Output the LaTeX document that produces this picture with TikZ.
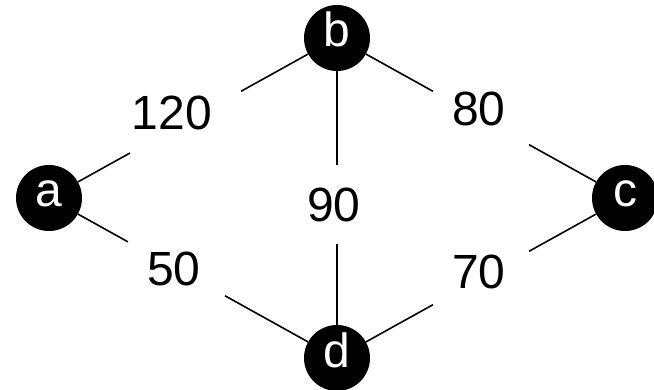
\documentclass[tikz,border=0pt]{standalone}
\usepackage{fontspec}
\setmainfont{Liberation Sans}
\usetikzlibrary{calc}
\tikzset{
  vertex/.style={circle, fill=black, text=white, inner sep=0pt,
                 minimum size=66pt, text height=24pt, text depth=6pt,
                 font=\fontsize{48}{48}\selectfont},
  edge/.style={line width=1.6pt},
  weight/.style={inner sep=0pt, font=\fontsize{48}{48}\selectfont},
}

\begin{document}
\begin{tikzpicture}[x=1pt, y=-1pt]
    \useasboundingbox (0,0) rectangle (654,390);
    %% vertices
    \node[vertex] (a) at (49,198)  {a};
    \node[vertex] (b) at (337,38)  {b};
    \node[vertex] (c) at (625,198) {c};
    \node[vertex] (d) at (337,358) {d};
    %% weights
    \node[weight] (wab) at (172,113) {120};
    \node[weight] (wbc) at (479,109) {80};
    \node[weight] (wbd) at (334,205) {90};
    \node[weight] (wad) at (174,269) {50};
    \node[weight] (wdc) at (479,272) {70};
    %% ends of the gap left open for each weight
    \coordinate (ab1) at ($(a)!0.281!(b)$);
    \coordinate (ab2) at ($(a)!0.667!(b)$);
    \coordinate (bc1) at ($(b)!0.333!(c)$);
    \coordinate (bc2) at ($(b)!0.667!(c)$);
    \coordinate (bd1) at ($(b)!0.397!(d)$);
    \coordinate (bd2) at ($(b)!0.644!(d)$);
    \coordinate (ad1) at ($(a)!0.274!(d)$);
    \coordinate (ad2) at ($(a)!0.611!(d)$);
    \coordinate (dc1) at ($(d)!0.333!(c)$);
    \coordinate (dc2) at ($(d)!0.667!(c)$);
    %% edges
    \draw[edge] (a) -- (ab1);  \draw[edge] (ab2) -- (b);
    \draw[edge] (b) -- (bc1);  \draw[edge] (bc2) -- (c);
    \draw[edge] (b) -- (bd1);  \draw[edge] (bd2) -- (d);
    \draw[edge] (a) -- (ad1);  \draw[edge] (ad2) -- (d);
    \draw[edge] (d) -- (dc1);  \draw[edge] (dc2) -- (c);
\end{tikzpicture}
\end{document}
